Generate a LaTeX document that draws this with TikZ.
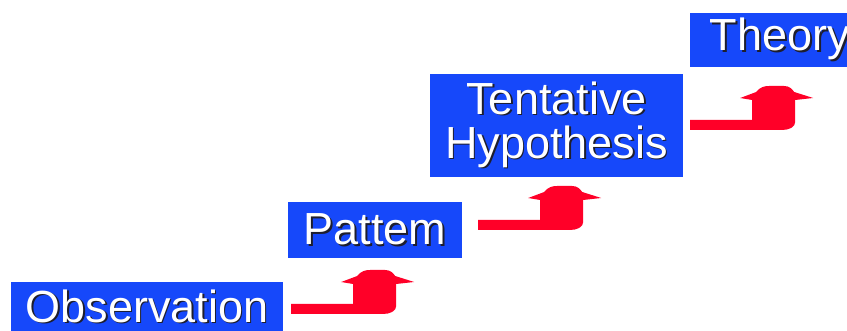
\documentclass[tikz,border=0pt]{standalone}
\usepackage{fontspec}
\setmainfont{Liberation Sans}
\usetikzlibrary{calc}
\definecolor{boxblue}{RGB}{22,72,250}
\definecolor{arrowred}{RGB}{255,0,40}
\definecolor{txtshadow}{RGB}{30,30,45}
\newcommand\shtxt[1]{\leavevmode\rlap{\hspace{1.6pt}\raisebox{-1.6pt}{\color{txtshadow}#1}}{\color{white}#1}}
\begin{document}
\begin{tikzpicture}[x=1pt,y=-1pt,
  stepbox/.style={fill=boxblue, inner sep=0pt, font=\fontsize{45}{44}\selectfont, align=center},
  hookarrow/.pic={
    \fill[arrowred] (0,0) -- (0,-10) -- (62,-10) -- (62,-30) -- (50,-32)
      -- (66,-38) .. controls (70,-43) and (74,-44) .. (79,-44) -- (94,-44)
      .. controls (99,-44) and (102,-41) .. (104,-38) -- (123,-32) -- (105,-30)
      -- (105,-8) .. controls (105,-3) and (99,0) .. (92,0) -- cycle;
  }]
\useasboundingbox (0,0) rectangle (847,331);
\clip (0,0) rectangle (847,331);
\node[stepbox, minimum width=272pt, minimum height=50pt] (obs) at (147,307) {\shtxt{Observation}};
\node[stepbox, minimum width=174pt, minimum height=56pt] (pat) at (375,230) {\shtxt{Pattem}};
\node[stepbox, minimum width=253pt, minimum height=103pt] (hyp) at (556.5,125.5) {\shtxt{Tentative}\\\shtxt{Hypothesis}};
\node[stepbox, minimum width=180pt, minimum height=54pt] (the) at (780,40) {\shtxt{Theory}};
\pic at ($(obs.east)+(8,7)$) {hookarrow};
\pic at ($(pat.east)+(16,0)$) {hookarrow};
\pic at ($(hyp.east)+(7,4.5)$) {hookarrow};
\end{tikzpicture}
\end{document}
